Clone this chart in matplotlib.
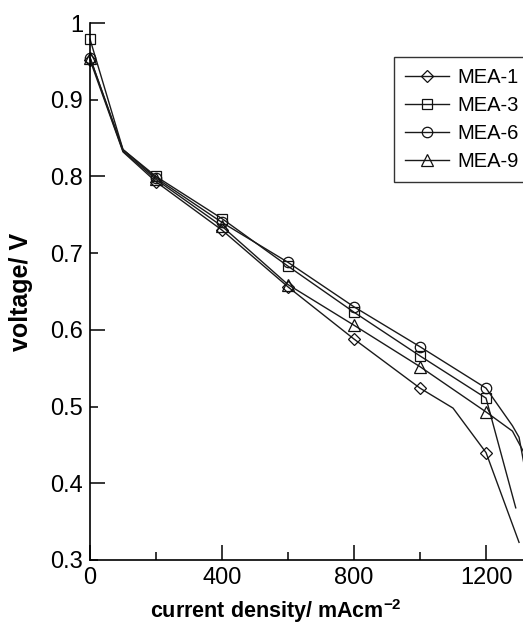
import matplotlib
matplotlib.use('Agg')
import matplotlib.pyplot as plt
from matplotlib.ticker import FixedLocator

plt.rcParams['font.family'] = ['Liberation Sans', 'DejaVu Sans']
plt.rcParams['mathtext.fontset'] = 'custom'
plt.rcParams['mathtext.rm'] = 'Liberation Sans:bold'
plt.rcParams['mathtext.bf'] = 'Liberation Sans:bold'

# current density (mA cm^-2) and voltage (V)
x_mea1 = [0, 100, 200, 400, 600, 800, 1000, 1100, 1200, 1300]
y_mea1 = [0.952, 0.832, 0.793, 0.730, 0.656, 0.588, 0.524, 0.498, 0.440, 0.323]
x_mea3 = [0, 100, 200, 400, 600, 800, 1000, 1200, 1290]
y_mea3 = [0.979, 0.835, 0.800, 0.745, 0.683, 0.623, 0.566, 0.511, 0.368]
x_mea6 = [0, 100, 200, 400, 600, 800, 1000, 1200, 1280, 1300, 1315]
y_mea6 = [0.955, 0.835, 0.798, 0.740, 0.688, 0.630, 0.578, 0.524, 0.475, 0.460, 0.425]
x_mea9 = [0, 100, 200, 400, 600, 800, 1000, 1200, 1280, 1315]
y_mea9 = [0.955, 0.833, 0.796, 0.735, 0.659, 0.606, 0.552, 0.493, 0.468, 0.440]

labels = ['MEA-1', 'MEA-3', 'MEA-6', 'MEA-9']
markers = ['D', 's', 'o', '^']
msizes = [6.5, 7.5, 7.5, 8]
# which points carry a marker (every 200 mA cm^-2)
marks = [[0, 2, 3, 4, 5, 6, 8], [0, 2, 3, 4, 5, 6, 7],
         [0, 2, 3, 4, 5, 6, 7], [0, 2, 3, 4, 5, 6, 7]]

fig = plt.figure(figsize=(5.23, 6.32), dpi=100)
ax = fig.add_axes([90 / 523, 1 - 560 / 632, 1 - 90 / 523, (560 - 23) / 632])

series = [(x_mea1, y_mea1), (x_mea3, y_mea3), (x_mea6, y_mea6), (x_mea9, y_mea9)]
for (xs, ys), lab, m, ms, mk in zip(series, labels, markers, msizes, marks):
    ax.plot(xs, ys, color='#1a1a1a', lw=1.0, marker=m, ms=ms, mfc='none',
            mec='#111111', mew=0.9, markevery=mk, label=lab, clip_on=False)

ax.set_xlim(0, 1312)
ax.set_ylim(0.3, 1.0)
ax.spines['top'].set_visible(False)
ax.spines['right'].set_visible(False)
for s in ['left', 'bottom']:
    ax.spines[s].set_linewidth(1.2)

ax.xaxis.set_major_locator(FixedLocator([0, 400, 800, 1200]))
ax.xaxis.set_minor_locator(FixedLocator([200, 600, 1000]))
ax.yaxis.set_major_locator(FixedLocator([0.4, 0.6, 0.8, 1.0]))
ax.yaxis.set_minor_locator(FixedLocator([0.3, 0.5, 0.7, 0.9]))
ax.set_xticklabels(['0', '400', '800', '1200'])
ax.set_yticklabels(['0.4', '0.6', '0.8', '1'])
ax.set_yticklabels(['0.3', '0.5', '0.7', '0.9'], minor=True)
ax.tick_params(which='major', direction='in', length=11, width=1.1, labelsize=17, pad=5)
ax.tick_params(which='minor', direction='in', length=5.5, width=1.1, labelsize=17, pad=5)

ax.set_ylabel('voltage/ V', fontsize=18, fontweight='bold')
ax.yaxis.set_label_coords(-0.132, 0.5)
ax.set_xlabel(r'current density/ mAcm$^{\mathbf{-2}}$', fontsize=15.5, fontweight='bold')
ax.xaxis.set_label_coords(0.43, -0.07)

leg = ax.legend(loc='upper left', bbox_to_anchor=(394 / 523, 1 - 57 / 632),
                bbox_transform=fig.transFigure, fontsize=14.5, frameon=True,
                fancybox=False, edgecolor='black', handlelength=2.2,
                handletextpad=0.4, labelspacing=0.45, borderpad=0.55,
                borderaxespad=0)
leg.get_frame().set_linewidth(1.0)

fig.savefig('out.png', dpi=100, facecolor='white')
